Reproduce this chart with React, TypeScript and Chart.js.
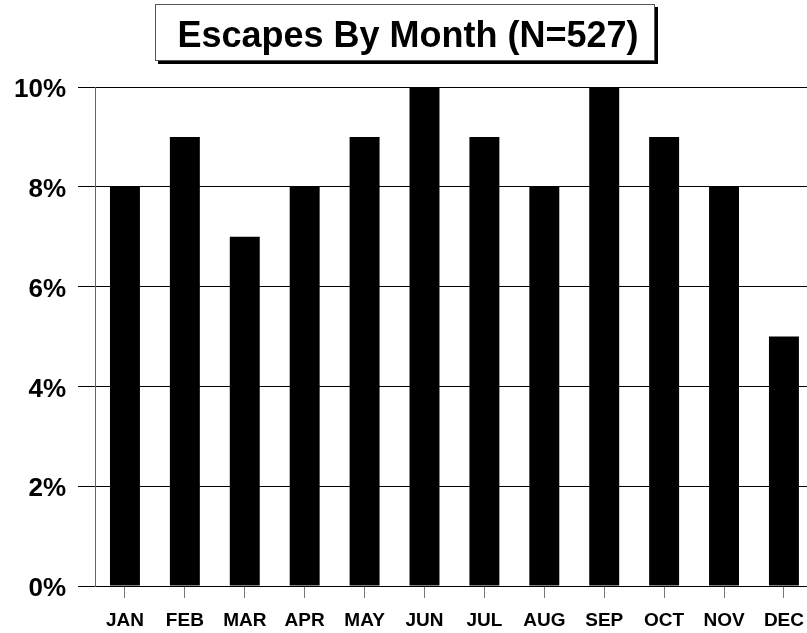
import React, { useEffect, useRef } from "react";
import { Chart, registerables } from "chart.js";

Chart.register(...registerables);

const months = ["JAN", "FEB", "MAR", "APR", "MAY", "JUN", "JUL", "AUG", "SEP", "OCT", "NOV", "DEC"];
const escapePercent = [8, 9, 7, 8, 9, 10, 9, 8, 10, 9, 8, 5];
const titleText = "Escapes By Month (N=527)";
const yTickMax = 10;
const yTickStep = 2;

const FONT = "'Liberation Sans', Arial, Helvetica, sans-serif";

const titleBoxPlugin = {
  id: "titleBox",
  afterDraw(chart: any) {
    const ctx = chart.ctx;
    ctx.save();
    const x = 155, y = 4, w = 500, h = 57;
    ctx.fillStyle = "#000";
    ctx.fillRect(x + 3, y + 3, w, h);
    ctx.fillStyle = "#fff";
    ctx.fillRect(x, y, w, h);
    ctx.strokeStyle = "#555";
    ctx.lineWidth = 1;
    ctx.strokeRect(x + 0.5, y + 0.5, w - 1, h - 1);
    ctx.fillStyle = "#000";
    ctx.font = `bold 36px ${FONT}`;
    ctx.textAlign = "center";
    ctx.textBaseline = "alphabetic";
    ctx.fillText(titleText, x + w / 2 + 3, 47);
    ctx.restore();
  },
};

export default function App() {
  const ref = useRef<HTMLCanvasElement | null>(null);
  useEffect(() => {
    if (!ref.current) return;
    const chart = new Chart(ref.current, {
      type: "bar",
      data: {
        labels: months,
        datasets: [
          {
            data: escapePercent,
            backgroundColor: "#000",
            borderWidth: 0,
            categoryPercentage: 1,
            barPercentage: 0.5,
          },
        ],
      },
      options: {
        animation: false,
        responsive: false,
        devicePixelRatio: 1,
        layout: { padding: { top: 87, left: 0, right: 0, bottom: 0 } },
        plugins: { legend: { display: false }, title: { display: false }, tooltip: { enabled: false } },
        scales: {
          x: {
            offset: true,
            grid: {
              display: true,
              offset: false,
              drawOnChartArea: false,
              drawTicks: true,
              tickLength: 12,
              color: "#777",
            },
            border: { display: true, color: "#000" },
            ticks: {
              color: "#000",
              padding: 11,
              maxRotation: 0,
              autoSkip: false,
              font: { family: FONT, size: 19, weight: "bold" },
            },
            afterFit(scale: any) {
              scale.height = 47;
            },
          },
          y: {
            min: 0,
            max: yTickMax,
            grid: { color: "#000", lineWidth: 1, tickLength: 17, drawTicks: true },
            border: { display: true, color: "#666" },
            ticks: {
              stepSize: yTickStep,
              color: "#000",
              padding: 12,
              labelOffset: 3,
              font: { family: FONT, size: 26, weight: "bold" },
              callback: (v: any) => `${v}%`,
            },
            afterFit(scale: any) {
              scale.width = 95;
            },
          },
        },
      },
      plugins: [titleBoxPlugin],
    });
    return () => chart.destroy();
  }, []);
  return (
    <div style={{ position: "fixed", left: 0, top: 0, width: 815, height: 633, background: "#fff" }}>
      <canvas ref={ref} width={815} height={633} style={{ display: "block" }} />
    </div>
  );
}
